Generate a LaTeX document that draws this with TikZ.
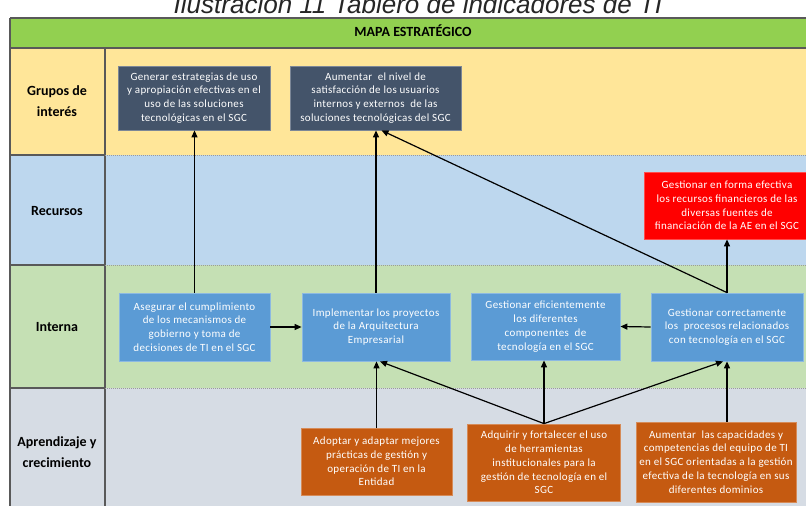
\documentclass[tikz,border=0pt]{standalone}
\usepackage{fontspec}
\setmainfont{Carlito}
\newfontfamily\capfont{Liberation Sans}
\usetikzlibrary{arrows.meta,calc}
\definecolor{hdrgreen}{HTML}{92D050}
\definecolor{rowyellow}{HTML}{FFE699}
\definecolor{rowblue}{HTML}{BDD7EE}
\definecolor{rowgreen}{HTML}{C5E0B4}
\definecolor{rowgray}{HTML}{D6DCE4}
\definecolor{slate}{HTML}{44546A}
\definecolor{boxblue}{HTML}{5B9BD5}
\definecolor{boxred}{HTML}{FF0000}
\definecolor{boxorange}{HTML}{C55A11}
\definecolor{gridline}{HTML}{595959}
\tikzset{
  objbox/.style={rectangle, inner sep=0pt, align=center, text=white,
    font=\fontsize{11}{13.8}\selectfont\addfontfeatures{LetterSpace=3}, line width=0.8pt},
  slatebox/.style={objbox, fill=slate, draw=slate!70!white},
  bluebox/.style={objbox, fill=boxblue, draw=boxblue!70!white},
  redbox/.style={objbox, fill=boxred, draw=boxred!70!white},
  orangebox/.style={objbox, fill=boxorange, draw=boxorange!70!white},
  rowlabel/.style={align=center, font=\bfseries\fontsize{14}{21}\selectfont, text=black},
  conn/.style={line width=1.2pt, -{Triangle[length=7pt,width=6pt]}},
  seprow/.style={gridline!60, line width=1pt, densely dotted},
  sepcol/.style={gridline, line width=1.3pt}
}
\begin{document}
\begin{tikzpicture}[x=1pt,y=-1pt]
\useasboundingbox (0,0) rectangle (806,506);
\fill[white] (0,0) rectangle (806,506);
% caption (cut at top)
\node[anchor=base, inner sep=0pt, font=\capfont\itshape\fontsize{26}{30}\selectfont, text=black!85] (caption) at (418,13) {Ilustración 11 Tablero de indicadores de TI};
% rows
\fill[hdrgreen] (10,18) rectangle (830,48);
\fill[rowyellow] (10,48) rectangle (830,155);
\fill[rowblue] (10,155) rectangle (830,265);
\fill[rowgreen] (10,265) rectangle (830,388);
\fill[rowgray] (10,388) rectangle (830,520);
% grid lines
\draw[sepcol] (10,18) -- (830,18);
\draw[sepcol] (10,48) -- (830,48);
\draw[sepcol] (10,18) -- (10,520);
\draw[sepcol] (105,48) -- (105,520);
\foreach \yy in {155,265,388}{
  \draw[sepcol] (10,\yy) -- (105,\yy);
  \draw[seprow] (105,\yy) -- (830,\yy);
}
% header text
\node[font=\bfseries\fontsize{14}{16}\selectfont] (hdr) at (413,31) {MAPA ESTRATÉGICO};
% row labels
\node[rowlabel] (lg) at (57,101) {Grupos de\\interés};
\node[rowlabel] (lr) at (57,211) {Recursos};
\node[rowlabel] (li) at (57,327) {Interna};
\node[rowlabel] (la) at (57,452) {Aprendizaje y\\crecimiento};
% Grupos de interés
\node[slatebox, minimum width=152pt, minimum height=64pt] (B1) at (194,98)
  {Generar estrategias de uso\\y apropiación efectivas en el\\uso de las soluciones\\tecnológicas en el SGC};
\node[slatebox, minimum width=171pt, minimum height=64pt] (B2) at (375.5,98)
  {Aumentar\ \ el nivel de\\satisfacción de los usuarios\\internos y externos\ \ de las\\soluciones tecnológicas del SGC};
% Recursos
\node[redbox, minimum width=166pt, minimum height=67pt] (R) at (727,205.5)
  {Gestionar en forma efectiva\\los recursos financieros de las\\diversas fuentes de\\financiación de la AE en el SGC};
% Interna
\node[bluebox, minimum width=151pt, minimum height=68pt] (A1) at (194.5,327)
  {Asegurar el cumplimiento\\de los mecanismos de\\gobierno y toma de\\decisiones de TI en el SGC};
\node[bluebox, minimum width=148pt, minimum height=68pt] (A2) at (376,327)
  {Implementar los proyectos\\de la Arquitectura\\Empresarial};
\node[bluebox, minimum width=149pt, minimum height=67pt] (A3) at (545.5,326.5)
  {Gestionar eficientemente\\los diferentes\\componentes\ \ de\\tecnología en el SGC};
\node[bluebox, minimum width=152pt, minimum height=68pt] (A4) at (727,327)
  {Gestionar correctamente\\los\ \ procesos relacionados\\con tecnología en el SGC};
% Aprendizaje y crecimiento
\node[orangebox, minimum width=151pt, minimum height=67pt] (C1) at (376.5,461.5)
  {Adoptar y adaptar mejores\\prácticas de gestión y\\operación de TI en la\\Entidad};
\node[orangebox, minimum width=153pt, minimum height=77pt] (C2) at (544,462.5)
  {Adquirir y fortalecer el uso\\de herramientas\\institucionales para la\\gestión de tecnología en el\\SGC};
\node[orangebox, minimum width=160pt, minimum height=80pt] (C3) at (716,462)
  {Aumentar\ \ las capacidades y\\competencias del equipo de TI\\en el SGC orientadas a la gestión\\efectiva de la tecnología en sus\\diferentes dominios};
% connectors
\draw[conn] (A1.north) -- (A1.north |- B1.south);
\draw[conn] (A2.north) -- (A2.north |- B2.south);
\draw[conn] (A4.north) -- ([xshift=6pt]B2.south);
\draw[conn] (A4.north) -- (A4.north |- R.south);
\draw[conn] (A1.east) -- (A2.west);
\draw[conn] (A4.west) -- (A3.east);
\draw[conn] (C1.north) -- (C1.north |- A2.south);
\draw[conn] (C2.north) -- ([xshift=4pt]A2.south);
\draw[conn] (C2.north) -- (C2.north |- A3.south);
\draw[conn] (C2.north) -- ([xshift=-4pt]A4.south);
\draw[conn] (A4.south |- C3.north) -- (A4.south);
\end{tikzpicture}
\end{document}
